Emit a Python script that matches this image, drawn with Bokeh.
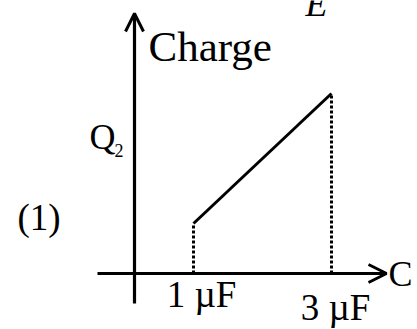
from bokeh.plotting import figure
from bokeh.models import Range1d, Arrow, OpenHead, Label
from bokeh.embed import file_html
from bokeh.resources import INLINE

# ---- data ----
cap_uF = [1, 3]
charge = [1.0, 3.6]
tick_labels = ["1 \u00b5F", "3 \u00b5F"]
zero = [0, 0]

# ---- layout ----
W, H = 417, 329
KX, KY = 69.0, 50.0          # px per data unit
X0_PX, Y0_PX = 124.0, 273.0  # figure px of data origin (from left / from top)
FONT = "Liberation Serif"
BASE_SHIFT = 0.32            # label anchor sits this many em above baseline


def dx(sx):
    return (sx - X0_PX) / KX


def dy(sy):
    return (Y0_PX - sy) / KY


p = figure(width=W, height=H, output_backend="svg", toolbar_location=None,
           x_range=Range1d(-X0_PX / KX, (W - X0_PX) / KX),
           y_range=Range1d(-(H - Y0_PX) / KY, Y0_PX / KY),
           min_border=0, background_fill_color="white",
           border_fill_color="white")
p.axis.visible = False
p.grid.visible = False
p.outline_line_color = None

AXIS_X = dx(134)

# axes with arrows
p.add_layout(Arrow(end=OpenHead(size=18, line_width=3, line_color="black"),
                   x_start=AXIS_X, y_start=dy(303), x_end=AXIS_X, y_end=dy(13),
                   line_width=3.2, line_color="black"))
p.add_layout(Arrow(end=OpenHead(size=18, line_width=3, line_color="black"),
                   x_start=dx(97), y_start=0, x_end=dx(386), y_end=0,
                   line_width=3.2, line_color="black"))

# dotted drop lines
p.segment(x0=cap_uF, y0=zero, x1=cap_uF, y1=charge, line_color="black",
          line_width=3, line_dash="3 2")
# charge line
p.line(cap_uF, charge, line_color="black", line_width=3)


def lab(text, sx, sy, size, align="left", style="normal"):
    p.add_layout(Label(x=dx(sx), y=dy(sy - BASE_SHIFT * size), text=text,
                       text_font=FONT, text_font_size=f"{size}px",
                       text_align=align, text_baseline="alphabetic",
                       text_color="black", text_font_style=style))


lab("Charge", 148, 60, 43)
lab("E", 305, 15, 36, style="italic")
lab("Q", 89, 148, 36)
lab("2", 114, 156, 18)
lab("(1)", 17, 229, 37)
lab("C", 388, 285, 36)

# tick labels under the capacitance values
TICK_SIZE = 37
tick_offsets = [(8, 306), (4, 319)]
for c, t, (ox, sy) in zip(cap_uF, tick_labels, tick_offsets):
    p.add_layout(Label(x=c, y=dy(sy - BASE_SHIFT * TICK_SIZE), x_offset=ox,
                       text=t, text_font=FONT,
                       text_font_size=f"{TICK_SIZE}px", text_align="center",
                       text_baseline="alphabetic", text_color="black"))

open("out.html", "w").write(file_html(p, INLINE))
